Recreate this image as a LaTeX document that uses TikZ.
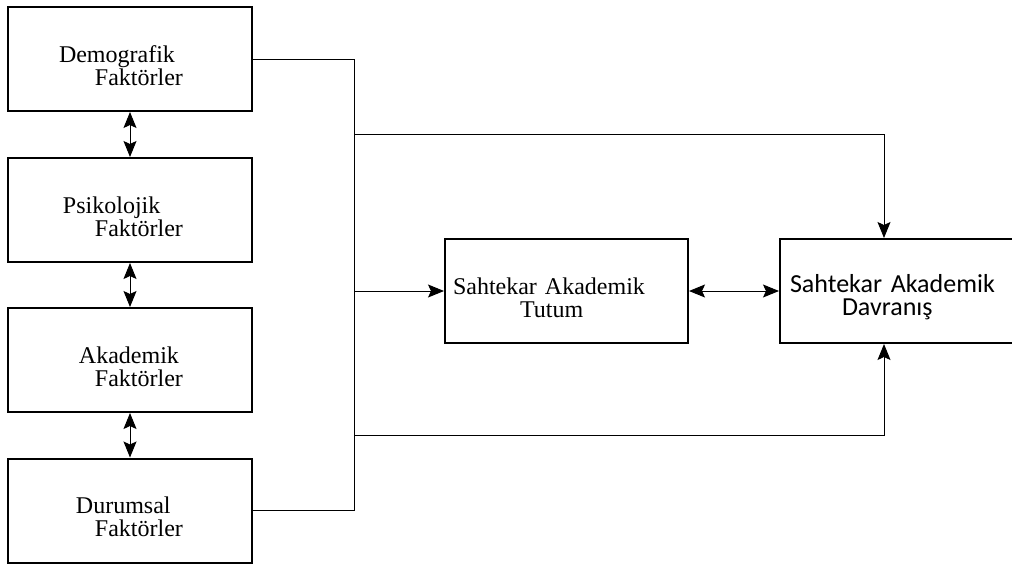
\documentclass[tikz,border=0pt]{standalone}
\usepackage{fontspec}
\setmainfont{Liberation Serif}
\newfontfamily\carlito{Carlito}
\usetikzlibrary{arrows.meta,calc,positioning}

\begin{document}
\begin{tikzpicture}[x=0.5pt,y=-0.5pt,
    factor/.style={draw,line width=1pt,minimum height=52pt,text width=122pt,
      inner xsep=0pt,inner ysep=0pt,align=left,
      font=\fontsize{12}{11.5}\selectfont,execute at begin node=\rule{0pt}{15pt}},
    conn/.style={line width=0.5pt},
    tip/.style={-{Stealth[length=8pt,width=6.5pt,inset=1.5pt]}},
    dtip/.style={{Stealth[length=8pt,width=6.5pt,inset=1.5pt]}-{Stealth[length=8pt,width=6.5pt,inset=1.5pt]}}]
\useasboundingbox (0,0) rectangle (1012,563);
% left column
\node[factor] (demo) at (130,59) {\hspace*{25.5pt}Demografik\\\hspace*{43.5pt}Faktörler};
\node[factor] (psiko) at (130,210) {\hspace*{27.5pt}Psikolojik\\\hspace*{43.5pt}Faktörler};
\node[factor] (akad) at (130,360) {\hspace*{35.5pt}Akademik\\\hspace*{43.5pt}Faktörler};
\node[factor] (durum) at (130,510.5) {\hspace*{34pt}Durumsal\\\hspace*{43.5pt}Faktörler};
% attitude and behaviour (right box runs off the page)
\node[factor,text width=121.5pt,execute at begin node=\rule{0pt}{11pt}] (tutum) at (566.5,291)
  {\hspace*{4pt}Sahtekar Akademik\\\hspace*{37.5pt}Tutum};
\node[factor,text width=140pt,font=\carlito\fontsize{13}{11.5}\selectfont] (davr) at (920,291)
  {\hspace*{5pt}Sahtekar Akademik\\\hspace*{31pt}Davranış};
% bus
\coordinate (jtop) at (354,134);
\coordinate (jmid) at (354,291);
\coordinate (jbot) at (354,435);
\coordinate (busbot) at (354,510.5);
\draw[conn] (demo.east) -| (busbot) -- (durum.east);
\draw[conn,tip] (jtop) -| ($(davr.north)+(-36,0)$);
\draw[conn,tip] (jmid) -- (tutum.west);
\draw[conn,tip] (jbot) -| ($(davr.south)+(-36,0)$);
\draw[conn,dtip] (tutum.east) -- (davr.west);
% between factors
\draw[conn,dtip] (demo.south) -- (psiko.north);
\draw[conn,dtip] (psiko.south) -- (akad.north);
\draw[conn,dtip] (akad.south) -- (durum.north);
\end{tikzpicture}
\end{document}
